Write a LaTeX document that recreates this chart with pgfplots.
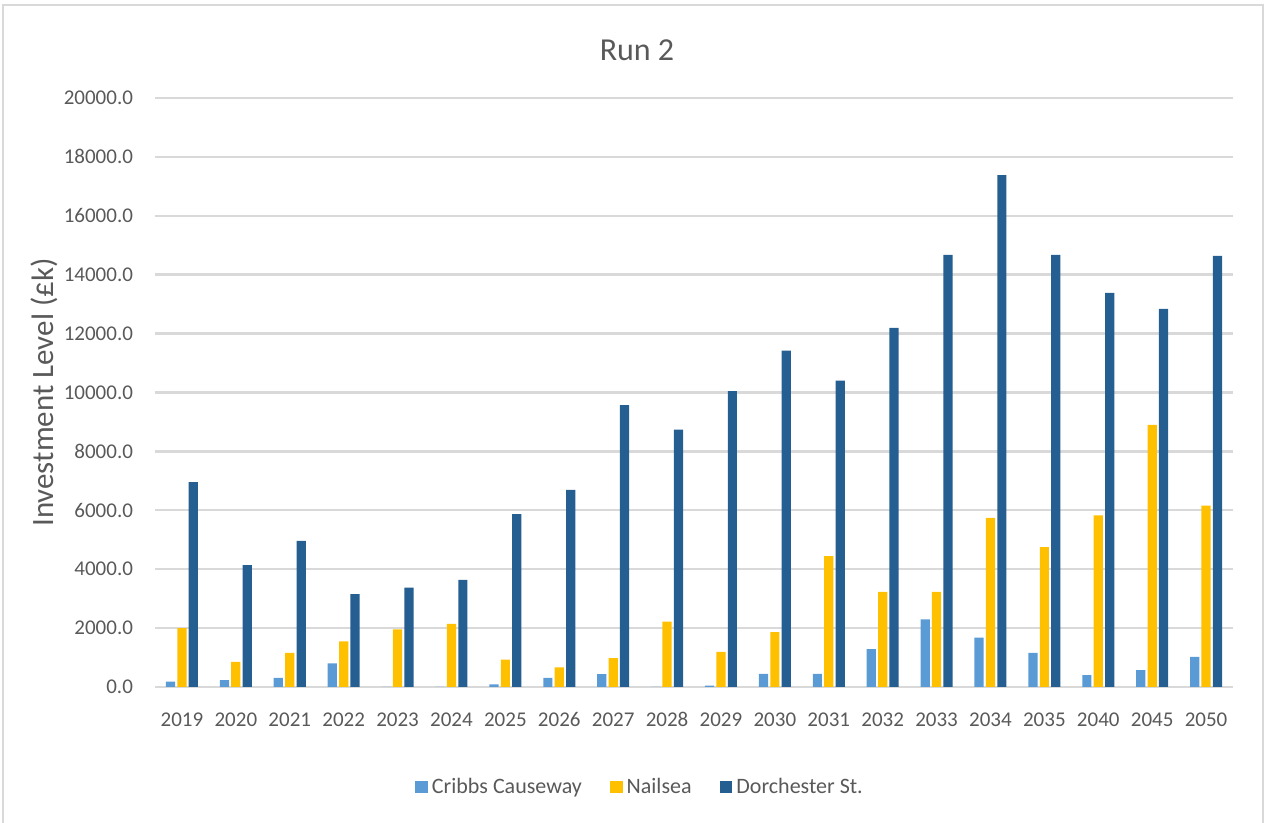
\documentclass[border=0pt]{standalone}
\usepackage{pgfplots}
\pgfplotsset{compat=1.18}
\usepackage{fontspec}
\setmainfont{Carlito}
\definecolor{cribbs}{HTML}{5B9BD5}
\definecolor{nailsea}{HTML}{FFC000}
\definecolor{dorch}{HTML}{255E91}
\definecolor{txt}{HTML}{595959}
\definecolor{gridc}{HTML}{D9D9D9}
\begin{document}
\begin{tikzpicture}
\begin{axis}[
  at={(0pt,0pt)}, anchor=south west,
  scale only axis,
  width=539pt, height=294.5pt,
  ybar=1.1pt, bar width=4.6pt,
  xmin=-0.5, xmax=19.5,
  ymin=0, ymax=20000,
  ytick={0,2000,...,20000},
  scaled y ticks=false,
  xtick=data,
  xticklabels={2019,2020,2021,2022,2023,2024,2025,2026,2027,2028,2029,2030,2031,2032,2033,2034,2035,2040,2045,2050},
  axis line style={draw=none},
  major tick length=0pt,
  ymajorgrids, grid style={gridc, line width=1.2pt},
  /pgf/number format/fixed,
  /pgf/number format/fixed zerofill,
  /pgf/number format/precision=1,
  /pgf/number format/1000 sep={},
  /pgf/number format/assume math mode=true,
  yticklabel style={font=\fontsize{10.5}{12}\selectfont, text=txt, xshift=-7.5pt},
  xticklabel style={font=\fontsize{10.5}{12}\selectfont, text=txt, yshift=-8.5pt, text height=1.6ex, text depth=0.2ex},
  ylabel={Investment Level (£k)},
  ylabel style={at={(axis description cs:0,0.5)}, yshift=55.5pt, anchor=center, font=\fontsize{15.5}{18}\selectfont, text=txt},
  title={Run 2},
  title style={at={(axis description cs:0,1)}, xshift=241pt, yshift=18pt, anchor=center, font=\fontsize{16}{19}\selectfont, text=txt},
  legend columns=3,
  legend style={at={(axis description cs:0,0)}, xshift=243pt, yshift=-50pt, anchor=center, draw=none, fill=none,
    font=\fontsize{11}{13}\selectfont, text=txt,
    /tikz/every even column/.append style={column sep=12pt}},
  legend image code/.code={\fill[#1] (0pt,-3.2pt) rectangle (6.4pt,3.2pt);},
]
\addplot[fill=cribbs, draw=none] coordinates {
(0,180) (1,230) (2,310) (3,805) (4,0) (5,0) (6,92) (7,310) (8,437) (9,0)
(10,46) (11,448) (12,448) (13,1287) (14,2300) (15,1678) (16,1160) (17,400) (18,575) (19,1023)};
\addplot[fill=nailsea, draw=none] coordinates {
(0,2000) (1,850) (2,1160) (3,1550) (4,1955) (5,2140) (6,930) (7,667) (8,977) (9,2218)
(10,1195) (11,1862) (12,4440) (13,3230) (14,3230) (15,5745) (16,4750) (17,5830) (18,8900) (19,6160)};
\addplot[fill=dorch, draw=none] coordinates {
(0,6960) (1,4140) (2,4960) (3,3150) (4,3370) (5,3640) (6,5870) (7,6690) (8,9575) (9,8740)
(10,10050) (11,11420) (12,10400) (13,12195) (14,14675) (15,17385) (16,14675) (17,13380) (18,12840) (19,14640)};
\legend{Cribbs Causeway, Nailsea, Dorchester St.}
\end{axis}
\draw[gridc, line width=0.8pt] (-76pt,-80pt) -- (-76pt,341pt) -- (554pt,341pt) -- (554pt,-80pt);
\pgfresetboundingbox
\path[use as bounding box] (-77.5pt,-68pt) rectangle (557pt,343.5pt);
\end{tikzpicture}
\end{document}
